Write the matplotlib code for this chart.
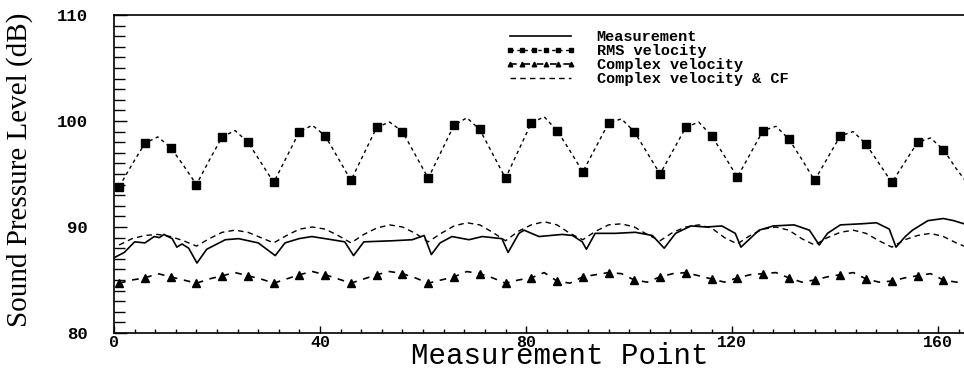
import matplotlib.pyplot as plt
import numpy as np

# common x grid for the three computed curves (every 2.5 points, starting at point 1)
grid_x = np.arange(1, 167, 2.5)

# RMS velocity (markers every 5 points)
rms = [93.8, 95.9, 97.9, 98.5, 97.5, 95.8,
       94.0, 96.3, 98.5, 99.1, 98.0, 96.1,
       94.2, 96.6, 99.0, 99.6, 98.6, 96.5,
       94.4, 96.9, 99.4, 99.9, 99.0, 96.8,
       94.6, 97.1, 99.6, 100.3, 99.2, 96.9,
       94.6, 97.2, 99.8, 100.4, 99.1, 97.2,
       95.2, 97.5, 99.8, 100.2, 99.0, 97.0,
       95.0, 97.2, 99.4, 99.9, 98.6, 96.7,
       94.7, 96.9, 99.1, 99.5, 98.3, 96.4,
       94.4, 96.5, 98.6, 99.0, 97.8, 96.0,
       94.2, 96.1, 98.0, 98.4, 97.3, 95.5,
       93.9]

# Complex velocity
cv = [84.7, 85.0, 85.2, 85.6, 85.3, 85.0,
      84.7, 85.1, 85.4, 85.7, 85.4, 85.1,
      84.7, 85.1, 85.5, 85.8, 85.5, 85.1,
      84.7, 85.1, 85.5, 85.8, 85.6, 85.2,
      84.7, 85.0, 85.3, 85.8, 85.6, 85.2,
      84.7, 85.0, 85.2, 85.7, 84.9, 84.7,
      85.3, 85.5, 85.7, 85.6, 85.0, 84.8,
      85.3, 85.6, 85.7, 85.4, 85.1, 84.8,
      85.2, 85.5, 85.6, 85.7, 85.2, 84.8,
      85.0, 85.3, 85.5, 85.7, 85.1, 84.8,
      84.9, 85.2, 85.4, 85.6, 85.0, 84.8,
      84.7]

# Complex velocity & CF
cf = [88.3, 88.9, 89.2, 89.3, 89.1, 88.7,
      88.2, 88.9, 89.5, 89.7, 89.5, 89.0,
      88.5, 89.2, 89.8, 90.0, 89.8, 89.2,
      88.5, 89.3, 89.9, 90.2, 90.0, 89.4,
      88.6, 89.4, 90.1, 90.4, 90.2, 89.5,
      88.7, 89.6, 90.2, 90.5, 90.2, 89.4,
      88.8, 89.6, 90.2, 90.3, 90.0, 89.3,
      88.7, 89.5, 90.0, 90.2, 89.9, 89.0,
      88.4, 89.2, 89.8, 90.0, 89.7, 88.9,
      88.3, 89.0, 89.5, 89.7, 89.4, 88.7,
      88.1, 88.8, 89.2, 89.4, 89.1, 88.5,
      88.0]

# Measurement (irregular, read point by point)
meas_x = [0, 2, 4, 6, 7.8, 8.8, 9.7, 11.3, 12.2, 13.2, 14.5, 16.1, 18, 21.6, 24.2,
          28, 31.3, 33.2, 35.9, 38.4, 42.3, 44.8, 46.5, 48.5, 54, 57.9, 60.2, 61.6,
          63.3, 65.6, 68.9, 71.5, 75.3, 76.5, 78.6, 79.6, 82.5, 87, 89, 90.9, 91.7,
          93.4, 97.3, 101.2, 104.5, 106.8, 109, 112, 115, 118, 120.6, 121.7, 123.9,
          125.2, 128, 132, 135, 136.9, 138.5, 141, 145, 148, 150.5, 151.8, 153.6,
          155, 158, 161, 163, 165]
meas_y = [87.1, 87.6, 88.6, 88.5, 89.1, 89.0, 89.3, 88.9, 88.1, 88.4, 88.0, 86.6, 87.9,
          88.8, 88.9, 88.5, 87.3, 88.5, 88.9, 89.1, 88.8, 88.6, 87.3, 88.6, 88.7, 88.8,
          89.2, 87.4, 88.5, 89.1, 88.8, 89.1, 88.9, 87.6, 89.4, 89.7, 89.1, 89.3, 89.2,
          88.6, 87.9, 89.4, 89.4, 89.5, 89.2, 88.0, 89.4, 90.1, 90.0, 90.1, 89.4, 88.1,
          89.1, 89.7, 90.1, 90.2, 89.7, 88.3, 89.4, 90.2, 90.3, 90.4, 89.8, 88.1, 89.1,
          89.7, 90.6, 90.8, 90.6, 90.3]

labels = ['Measurement', 'RMS velocity', 'Complex velocity', 'Complex velocity & CF']
x_ticks = [0, 40, 80, 120, 160]
y_ticks = [80, 90, 100, 110]

mono = ['Liberation Mono', 'DejaVu Sans Mono']
serif = ['Liberation Serif', 'DejaVu Serif']

fig = plt.figure(figsize=(9.64, 3.73), dpi=100)
ax = fig.add_axes([114 / 964, 1 - 333 / 373, 850 / 964, 318 / 373])

ax.plot(meas_x, meas_y, color='black', lw=1.2, label=labels[0])
ax.plot(grid_x, rms, color='black', lw=1.0, dashes=(2.5, 2.5),
        marker='s', markersize=6, markevery=2, label=labels[1])
ax.plot(grid_x, cv, color='black', lw=1.2, dashes=(4, 4),
        marker='^', markersize=5.5, markevery=2, label=labels[2])
ax.plot(grid_x, cf, color='black', lw=1.0, dashes=(4, 3), label=labels[3])

ax.set_xlim(0, 165)
ax.set_ylim(80, 110)
ax.set_xticks(x_ticks)
ax.set_xticks(np.arange(0, 166, 4), minor=True)
ax.set_yticks(y_ticks)
ax.set_yticks(np.arange(80, 111, 1), minor=True)
ax.tick_params(which='both', direction='in', color='black')
ax.tick_params(axis='y', which='major', length=9, width=1, pad=19)
ax.tick_params(axis='y', which='minor', length=8, width=1)
ax.tick_params(axis='x', which='major', length=5, width=1, pad=1.5)
ax.tick_params(axis='x', which='minor', length=3, width=1)
for lab in ax.get_yticklabels():
    lab.set_family(mono)
    lab.set_fontweight('bold')
    lab.set_fontsize(12.5)
for lab in ax.get_xticklabels():
    lab.set_family(mono)
    lab.set_fontweight('bold')
    lab.set_fontsize(12)

ax.spines['right'].set_visible(False)
for s in ['left', 'bottom', 'top']:
    ax.spines[s].set_linewidth(1.2)

fig.text(20 / 964, 1 - 170 / 373, 'Sound Pressure Level (dB)', rotation=90,
         ha='center', va='center', fontsize=21, family=serif)
fig.text(560 / 964, 1 - 364 / 373, 'Measurement Point', ha='center', va='baseline',
         fontsize=21, family=mono)

ax.legend(loc='upper left', bbox_to_anchor=(505 / 964, 1 - 30 / 373),
          bbox_transform=fig.transFigure, frameon=False, borderpad=0,
          borderaxespad=0, handlelength=4.6, handletextpad=1.4,
          labelspacing=0, numpoints=6, markerscale=0.6,
          prop={'family': mono, 'weight': 'bold', 'size': 11})

plt.savefig('out.png', dpi=100)
